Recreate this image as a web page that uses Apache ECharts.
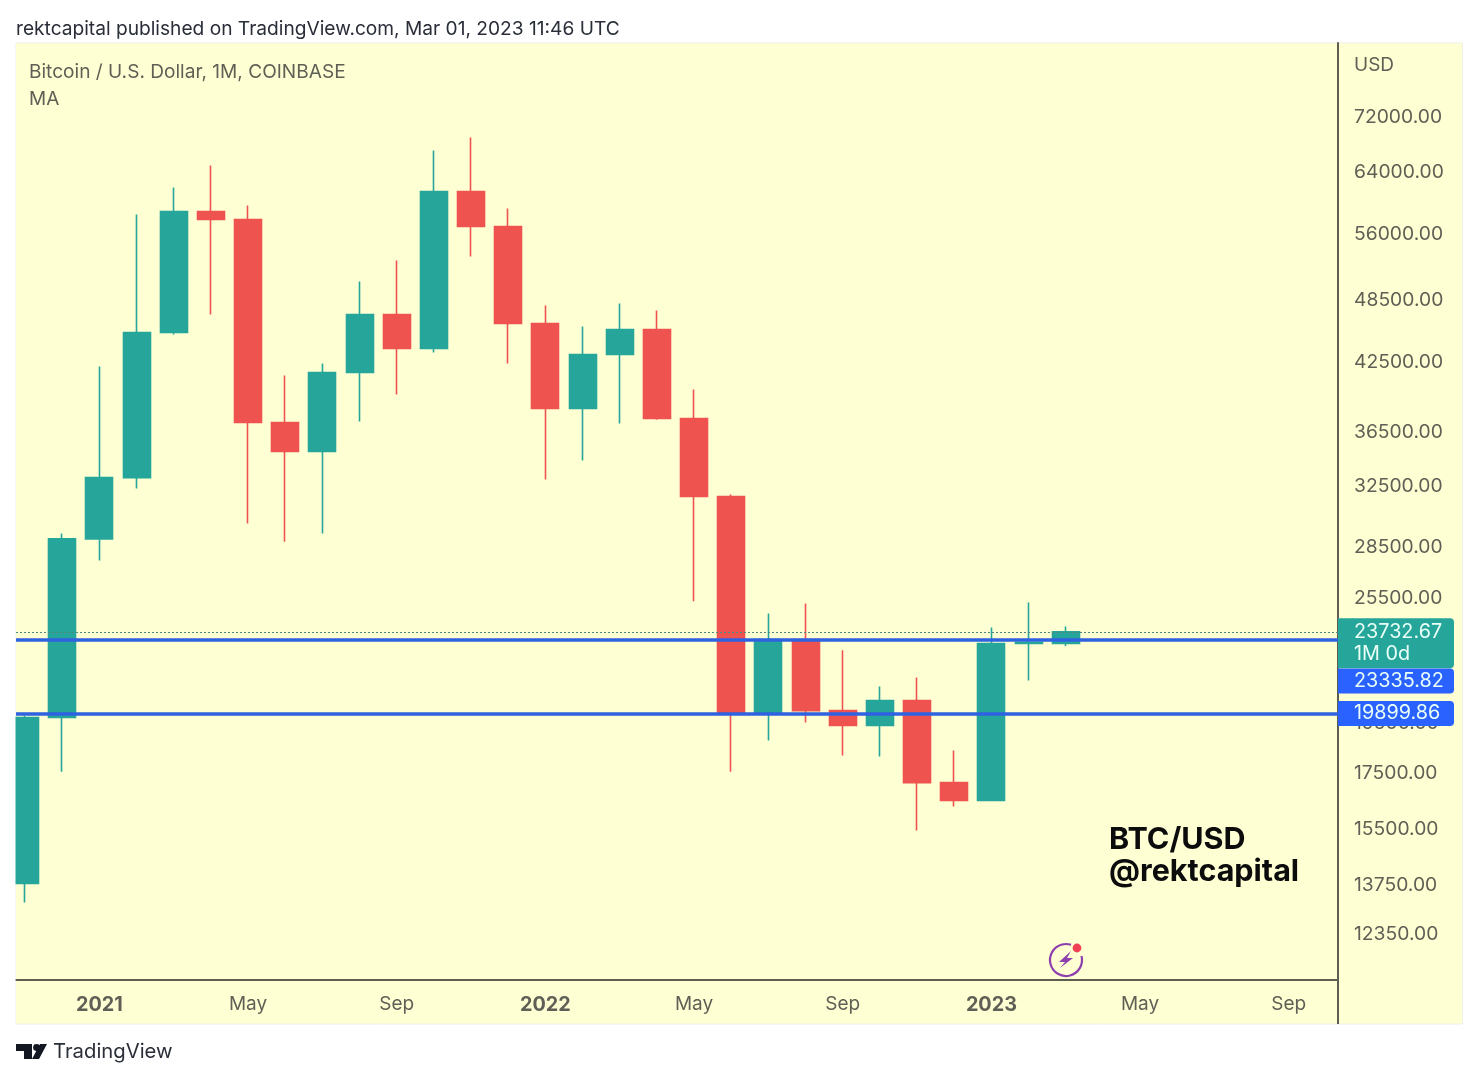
<!DOCTYPE html>
<html><head><meta charset="utf-8">
<style>html,body{margin:0;padding:0;background:#fff}#c{width:1478px;height:1080px}</style>
<script src="https://cdn.jsdelivr.net/npm/echarts@6/dist/echarts.min.js"></script>
</head><body><div id="c"></div>
<script>
const months = ['Nov 2020','Dec 2020','Jan 2021','Feb 2021','Mar 2021','Apr 2021','May 2021','Jun 2021','Jul 2021','Aug 2021','Sep 2021','Oct 2021','Nov 2021','Dec 2021','Jan 2022','Feb 2022','Mar 2022','Apr 2022','May 2022','Jun 2022','Jul 2022','Aug 2022','Sep 2022','Oct 2022','Nov 2022','Dec 2022','Jan 2023','Feb 2023','Mar 2023'];
const opens  = [13790,19728,29000,33100,45270,58780,57770,37280,35020,41530,47070,43740,61370,56910,46160,38430,43170,45570,37600,31780,19940,23340,20020,19390,20460,17140,16490,23140,23140];
const closes = [19728,29000,33100,45270,58780,57770,37280,35020,41530,47070,43740,61370,56910,46160,38430,43170,45570,37600,31780,19940,23340,20020,19390,20460,17140,16490,23140,23200,23732.67];
const lows   = [13234,17550,27680,32330,45080,47070,29980,28830,29340,37360,39610,43370,53340,42340,32970,34340,37200,37500,25350,17550,18770,19510,18170,18130,15460,16280,16480,21360,23020];
const highs  = [19800,29340,42070,58400,61900,64900,59540,41260,42340,50540,52880,67050,68960,59160,47990,45860,48200,47480,40030,31920,24690,25230,22800,21090,21500,18370,23950,25280,24000];
const yTicks = [12350,13750,15500,17500,19500,25500,28500,32500,36500,42500,48500,56000,64000,72000];
const xTickIndex = [2,6,10,14,18,22,26,30,34];
const xTickLabels = ['2021','May','Sep','2022','May','Sep','2023','May','Sep'];
const lastPrice = 23732.67;
const resistance = 23335.82;
const support = 19899.86;

const FONT = 'Inter';
const TXT = '#5f5f55';
const GREEN = '#26a69a', RED = '#ef5350', BLUE = '#2f62e0', TAG = '#2962ff';
const BG = '#ffffd4';

const chart = echarts.init(document.getElementById('c'), null, {renderer:'canvas'});
function priceLine(value, color, width, type, text, bg, off, pad) {
  return {
    yAxis: value,
    lineStyle: {color, width, type},
    label: {
      show: true, position: 'end', distance: 0, formatter: text, offset: [0, off],
      backgroundColor: bg, color: '#e9fff8', fontFamily: FONT, fontSize: 19.8,
      lineHeight: 22, width: 100, align: 'left', padding: pad, borderRadius: [0,4,4,0]
    }
  };
}
chart.setOption({
  animation: false,
  backgroundColor: '#ffffff',
  grid: {left: 16, top: 43, right: 140, bottom: 100, containLabel: false, show: false},
  xAxis: {
    type: 'value', min: -0.242, max: 35.325, splitLine: {show:false},
    axisLine: {show:true, lineStyle:{color:'#5d5d50', width:2}, onZero:false},
    axisTick: {show:false},
    axisLabel: {
      show: true, customValues: xTickIndex, margin: 15, color: TXT, fontFamily: FONT, fontSize: 19,
      formatter: v => {
        const s = xTickLabels[xTickIndex.indexOf(Math.round(v))] || '';
        return /^\d/.test(s) ? '{y|' + s + '}' : s;
      },
      rich: {y: {fontWeight: 'bold', fontFamily: FONT, fontSize: 19.8, color: TXT, padding: [0,0,3,0]}}
    }
  },
  yAxis: {
    type: 'log', position: 'right', min: 11195, max: 84555, splitLine: {show:false},
    axisLine: {show:true, onZero:false, lineStyle:{color:'#5d5d50', width:2}},
    axisTick: {show:false},
    axisLabel: {
      show: true, customValues: yTicks, margin: 16, color: TXT, fontFamily: FONT, fontSize: 19.3,
      formatter: v => Number(v).toFixed(2)
    }
  },
  series: [
    {
      type: 'line', z: 1, data: [], symbol: 'none', silent: true,
      markLine: {
        silent: true, symbol: 'none', animation: false,
        data: [
          priceLine(lastPrice, '#4f8a80', 1, [2,2], lastPrice.toFixed(2) + '\n1M 0d', GREEN, 11.5, [3,0,3,16]),
          priceLine(resistance, BLUE, 3.5, 'solid', resistance.toFixed(2), TAG, 41.5, [2,0,1,16]),
          priceLine(support, BLUE, 3.5, 'solid', support.toFixed(2), TAG, 0, [2,0,1,16])
        ]
      }
    },
    {
      type: 'candlestick', z: 2, barWidth: 27.5, clip: true,
      encode: {x: 0, y: [1,2,3,4]},
      data: months.map((m,i) => [i, opens[i], closes[i], lows[i], highs[i]]),
      itemStyle: {color: GREEN, color0: RED, borderColor: GREEN, borderColor0: RED, borderWidth: 1.6}
    }
  ],
  graphic: [
    {type:'rect', silent:true, z:-10, zlevel:-1, shape:{x:15.5,y:43,width:1447,height:981}, style:{fill:BG, stroke:'#efefe6', lineWidth:1}},
    {type:'rect', silent:true, z:100, shape:{x:0,y:43,width:15.5,height:981}, style:{fill:'#ffffff'}},
    {type:'line', silent:true, z:5, shape:{x1:1338,y1:43,x2:1338,y2:1024}, style:{stroke:'#5d5d50', lineWidth:2}},
    {type:'text', silent:true, left:16, top:20, style:{text:'rektcapital published on TradingView.com, Mar 01, 2023 11:46 UTC', font:'19.15px '+FONT, fill:'#2a2e39'}},
    {type:'text', silent:true, left:29, top:63, style:{text:'Bitcoin / U.S. Dollar, 1M, COINBASE', font:'19.1px '+FONT, fill:TXT}},
    {type:'text', silent:true, left:29, top:90, style:{text:'MA', font:'19px '+FONT, fill:TXT}},
    {type:'text', silent:true, left:1354, top:56, style:{text:'USD', font:'19px '+FONT, fill:TXT}},
    {type:'text', silent:true, left:1109, top:824, style:{text:'BTC/USD', font:'bold 30.5px '+FONT, fill:'#0c0c0c'}},
    {type:'text', silent:true, left:1109, top:856, style:{text:'@rektcapital', font:'bold 30.5px '+FONT, fill:'#0c0c0c'}},
    {type:'text', silent:true, left:53, top:1042, style:{text:'TradingView', font:'20.3px '+FONT, fill:'#2a2e39'}},
    // TradingView logo
    {type:'polygon', silent:true, shape:{points:[[16,1044],[32,1044],[32,1059],[24,1059],[24,1051],[16,1051]]}, style:{fill:'#131722'}},
    {type:'circle', silent:true, shape:{cx:36.5,cy:1047.5,r:3.4}, style:{fill:'#131722'}},
    {type:'polygon', silent:true, shape:{points:[[40,1044],[47,1044],[39,1059],[32,1059]]}, style:{fill:'#131722'}},
    // lightning mark
    {type:'arc', silent:true, shape:{cx:1066,cy:960,r:16,startAngle:-0.25,endAngle:-1.25,clockwise:true}, style:{stroke:'#8e3fae', fill:null, lineWidth:2.2}},
    {type:'polygon', silent:true, shape:{points:[[1071,951],[1059,962],[1065,962],[1060,968],[1073,958],[1067,958]]}, style:{fill:'#8e3fae'}},
    {type:'circle', silent:true, shape:{cx:1077,cy:948,r:4.4}, style:{fill:'#ef4055'}}
  ]
});
</script></body></html>
